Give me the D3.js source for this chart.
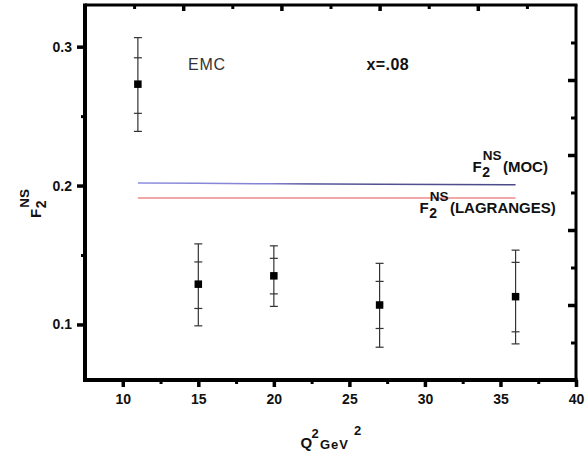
<!DOCTYPE html>
<html>
<head>
<meta charset="utf-8">
<script src="https://cdn.jsdelivr.net/npm/d3@7"></script>
<style>
  html, body { margin: 0; padding: 0; background: #fff; }
  svg { display: block; }
  text { font-family: "Liberation Sans", Arial, sans-serif; }
</style>
</head>
<body>
<svg id="chart" width="586" height="454"></svg>
<script>
// EMC non-singlet structure function at x = 0.08
const q2 = [11, 15, 20, 27, 36];
const f2 = [0.273, 0.129, 0.135, 0.114, 0.120];
const statPlus  = [0.019, 0.016, 0.0126, 0.017, 0.0247];
const statMinus = [0.021, 0.0175, 0.013, 0.0169, 0.0253];
const totPlus   = [0.0335, 0.029, 0.0216, 0.030, 0.0335];
const totMinus  = [0.034, 0.030, 0.022, 0.0304, 0.034];

// Model curves
const mocF2 = [0.2018, 0.2016, 0.2013, 0.2009, 0.2006];
const lagF2 = [0.1911, 0.1911, 0.1910, 0.1910, 0.1910];

const xTicks = [10, 15, 20, 25, 30, 35, 40];
const xMinor = [12.5, 17.5, 22.5, 27.5, 32.5, 37.5];
const yTicks = [0.1, 0.2, 0.3];
const yMinor = [0.15, 0.25];

const svg = d3.select("#chart");
const pLeft = 85, pRight = 576, pTop = 5, pBottom = 380;

const x = d3.scaleLinear().domain([7.5, 40]).range([pLeft, pRight]);
const y = d3.scaleLinear().domain([0.06, 0.33]).range([pBottom, pTop]);
// unlabelled scales for the top and right frame ticks
const xt = d3.scaleLinear().domain([0, 10]).range([pLeft, pRight]);
const yr = d3.scaleLinear().domain([0, 10]).range([pBottom, pTop]);

// Blue line gradient (lighter on the left)
const defs = svg.append("defs");
const grad = defs.append("linearGradient").attr("id", "mocGrad")
  .attr("gradientUnits", "userSpaceOnUse")
  .attr("x1", x(11)).attr("x2", x(36)).attr("y1", 0).attr("y2", 0);
grad.append("stop").attr("offset", "0%").attr("stop-color", "#8e8ee0");
grad.append("stop").attr("offset", "35%").attr("stop-color", "#8282d2");
grad.append("stop").attr("offset", "45%").attr("stop-color", "#565698");
grad.append("stop").attr("offset", "100%").attr("stop-color", "#4a4a88");

// Model lines
const line = d3.line().x(d => x(d[0])).y(d => y(d[1]));
svg.append("path").datum(q2.map((q, i) => [q, mocF2[i]]))
  .attr("d", line).attr("fill", "none")
  .attr("stroke", "url(#mocGrad)").attr("stroke-width", 1.5);
svg.append("path").datum(q2.map((q, i) => [q, lagF2[i]]))
  .attr("d", line).attr("fill", "none")
  .attr("stroke", "#f08a8a").attr("stroke-width", 1.5);

// Error bars: total and statistical
const capW = 4;
const eb = svg.append("g").attr("stroke", "#333").attr("stroke-width", 1.2);
q2.forEach((q, i) => {
  const cx = x(q);
  const yTop = y(f2[i] + totPlus[i]), yBot = y(f2[i] - totMinus[i]);
  eb.append("line").attr("x1", cx).attr("x2", cx).attr("y1", yTop).attr("y2", yBot);
  [yTop, yBot, y(f2[i] + statPlus[i]), y(f2[i] - statMinus[i])].forEach(yy => {
    eb.append("line").attr("x1", cx - capW).attr("x2", cx + capW)
      .attr("y1", yy).attr("y2", yy);
  });
});

// Data markers
svg.append("g").selectAll("rect").data(q2).join("rect")
  .attr("x", d => x(d) - 3.75)
  .attr("y", (d, i) => y(f2[i]) - 3.75)
  .attr("width", 7.5).attr("height", 7.5)
  .attr("fill", "#000");

// Frame
const frame = svg.append("g").attr("stroke", "#000").attr("fill", "none");
frame.append("line").attr("x1", pLeft).attr("x2", pLeft).attr("y1", pTop - 1.5).attr("y2", pBottom + 2).attr("stroke-width", 4);
frame.append("line").attr("x1", pLeft - 2).attr("x2", pRight + 1.5).attr("y1", pBottom).attr("y2", pBottom).attr("stroke-width", 4);
frame.append("line").attr("x1", pLeft).attr("x2", pRight + 1.5).attr("y1", pTop).attr("y2", pTop).attr("stroke-width", 3);
frame.append("line").attr("x1", pRight).attr("x2", pRight).attr("y1", pTop).attr("y2", pBottom).attr("stroke-width", 3);

function styleAxis(g, w) {
  g.select(".domain").remove();
  g.selectAll(".tick line").attr("stroke", "#000").attr("stroke-width", w);
  g.selectAll(".tick text").attr("font-family", "Liberation Sans, Arial, sans-serif")
    .attr("font-size", 14).attr("font-weight", "bold").attr("fill", "#111");
}

// Bottom axis
svg.append("g").attr("transform", `translate(0,${pBottom})`)
  .call(d3.axisBottom(x).tickValues(xTicks).tickSize(7).tickPadding(7).tickFormat(d3.format("d")))
  .call(g => styleAxis(g, 3.5));
svg.append("g").attr("transform", `translate(0,${pBottom})`)
  .call(d3.axisBottom(x).tickValues(xMinor).tickSize(4).tickFormat(""))
  .call(g => styleAxis(g, 3));

// Left axis
svg.append("g").attr("transform", `translate(${pLeft},0)`)
  .call(d3.axisLeft(y).tickValues(yTicks).tickSize(8).tickPadding(5).tickFormat(d3.format(".1f")))
  .call(g => styleAxis(g, 3.5));
svg.append("g").attr("transform", `translate(${pLeft},0)`)
  .call(d3.axisLeft(y).tickValues(yMinor).tickSize(4).tickFormat(""))
  .call(g => styleAxis(g, 3));

// Top axis (inward ticks, no labels)
svg.append("g").attr("transform", `translate(0,${pTop})`)
  .call(d3.axisTop(xt).tickValues([2, 4, 6, 8]).tickSize(-6).tickFormat(""))
  .call(g => styleAxis(g, 3.5));
svg.append("g").attr("transform", `translate(0,${pTop})`)
  .call(d3.axisTop(xt).tickValues([1, 3, 5, 7, 9]).tickSize(-4).tickFormat(""))
  .call(g => styleAxis(g, 3));

// Right axis (inward ticks, no labels)
svg.append("g").attr("transform", `translate(${pRight},0)`)
  .call(d3.axisRight(yr).tickValues([2, 4, 6, 8]).tickSize(-8).tickFormat(""))
  .call(g => styleAxis(g, 3.5));
svg.append("g").attr("transform", `translate(${pRight},0)`)
  .call(d3.axisRight(yr).tickValues([1, 3, 5, 7, 9]).tickSize(-5).tickFormat(""))
  .call(g => styleAxis(g, 3));

// F_2^NS label: F with stacked subscript 2 and superscript NS, then a suffix
function f2ns(g, x0, yb, suffix, size) {
  const t = g.append("g");
  const F = t.append("text").attr("x", x0).attr("y", yb)
    .attr("font-size", size).attr("font-weight", "bold").attr("fill", "#111").text("F");
  const wF = F.node().getComputedTextLength();
  const sub = t.append("text").attr("x", x0 + wF + 0.5).attr("y", yb + 5)
    .attr("font-size", size * 0.93).attr("font-weight", "bold").attr("fill", "#111").text("2");
  const sup = t.append("text").attr("x", x0 + wF + 1).attr("y", yb - 12)
    .attr("font-size", size * 0.9).attr("font-weight", "bold").attr("fill", "#111").text("NS");
  const w = Math.max(sub.node().getComputedTextLength(), sup.node().getComputedTextLength() + 0.5);
  if (suffix) {
    t.append("text").attr("x", x0 + wF + w + 2).attr("y", yb)
      .attr("font-size", size).attr("font-weight", "bold").attr("fill", "#111").text(suffix);
  }
  return t;
}

f2ns(svg, 472.5, 172, "(MOC)", 15);
f2ns(svg, 419.5, 213, "(LAGRANGES)", 15);

// Y axis title, rotated
const yl = svg.append("g").attr("transform", "translate(41,218) rotate(-90)");
f2ns(yl, 0, 0, "", 15);

// X axis title: Q^2 GeV^2
const xl = svg.append("g");
xl.append("text").attr("x", 300.5).attr("y", 447.5).attr("font-size", 15).attr("font-weight", "bold").attr("fill", "#111").text("Q");
xl.append("text").attr("x", 311.5).attr("y", 437.5).attr("font-size", 13).attr("font-weight", "bold").attr("fill", "#111").text("2");
xl.append("text").attr("x", 320).attr("y", 449).attr("font-size", 13).attr("font-weight", "bold")
  .attr("letter-spacing", 1).attr("fill", "#111").text("GeV");
xl.append("text").attr("x", 354).attr("y", 435).attr("font-size", 13).attr("font-weight", "bold").attr("fill", "#111").text("2");

// Annotations
svg.append("text").attr("x", 188).attr("y", 70).attr("font-size", 16)
  .attr("letter-spacing", 0.8).attr("fill", "#333").text("EMC");
svg.append("text").attr("x", 366.5).attr("y", 70).attr("font-size", 16)
  .attr("font-weight", "bold").attr("letter-spacing", 0.4).attr("fill", "#111").text("x=.08");
</script>
</body>
</html>
